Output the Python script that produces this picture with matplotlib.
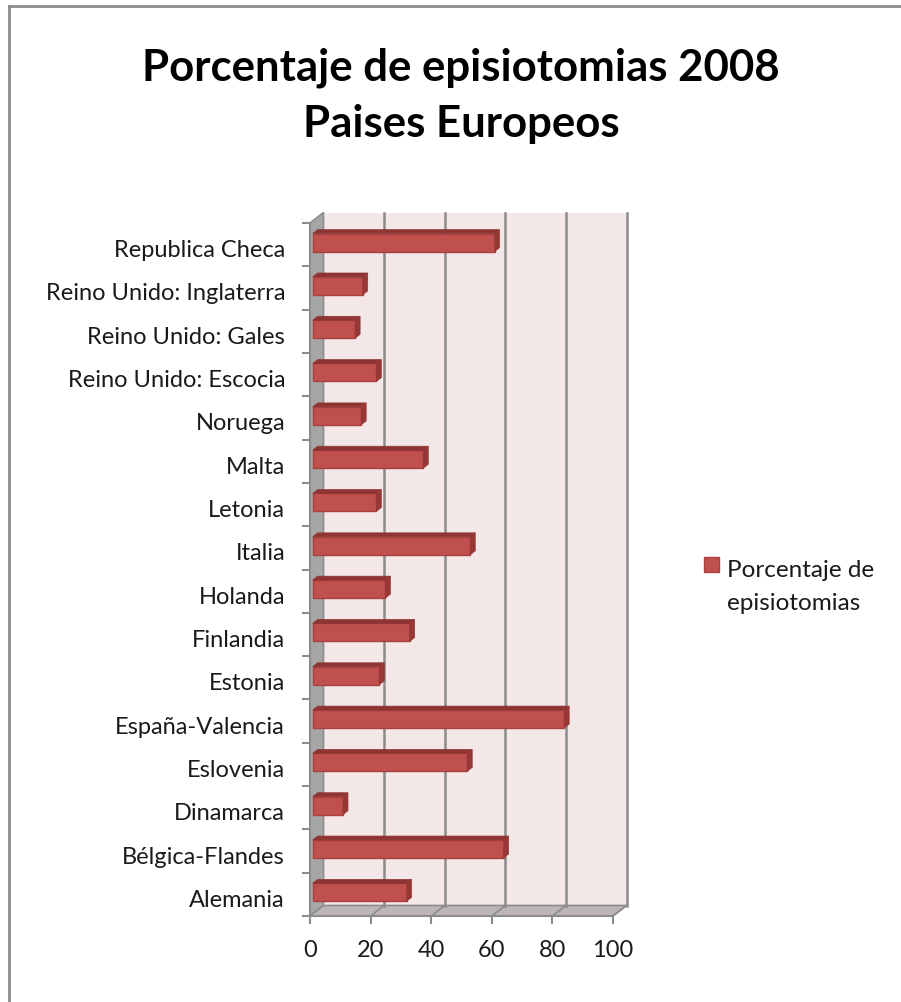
import matplotlib
matplotlib.use('Agg')
import matplotlib.pyplot as plt
from matplotlib.patches import Polygon, Rectangle
from matplotlib.lines import Line2D
from matplotlib.transforms import ScaledTranslation

# -- Data --------------------------------------------------------------
paises = ['Alemania', 'Bélgica-Flandes', 'Dinamarca', 'Eslovenia',
          'España-Valencia', 'Estonia', 'Finlandia', 'Holanda', 'Italia',
          'Letonia', 'Malta', 'Noruega', 'Reino Unido: Escocia',
          'Reino Unido: Gales', 'Reino Unido: Inglaterra', 'Republica Checa']
porcentaje = [31, 63, 10, 51, 83, 22, 32, 24, 52, 21, 36.5, 16, 21, 14, 16.5, 60]
xticks = [0, 20, 40, 60, 80, 100]

# -- Colors ------------------------------------------------------------
C_FRONT = '#C0504D'
C_TOP   = '#8E3533'
C_SIDE  = '#973836'
C_EDGE  = '#A8403D'
C_WALL  = '#F3E7E7'
C_LWALL = '#A6A6A6'
C_FLOOR = '#BDB5B7'
C_GRID  = '#8C8C8C'
C_TEXT  = '#1A1A1A'
FONT    = 'Lato'

W, H = 901, 1003
fig = plt.figure(figsize=(W / 100, H / 100), dpi=100, facecolor='white')

# front plane of the 3D box, in pixels
x0p, x1p, y0p, y1p = 310, 613, 224, 917
ax = fig.add_axes([x0p / W, 1 - y1p / H, (x1p - x0p) / W, (y1p - y0p) / H])
ax.set_xlim(0, 100)
ax.set_ylim(0, len(paises))
ax.set_facecolor('none')

# depth offset (back plane vs front plane), in data units
n = len(paises)
dx = 13.5 / ((x1p - x0p) / 100)
dy = 10.5 / ((y1p - y0p) / n)

# walls
ax.add_patch(Polygon([(dx, dy), (100 + dx, dy), (100 + dx, n + dy), (dx, n + dy)],
                     closed=True, facecolor=C_WALL, edgecolor='none', clip_on=False, zorder=0))
ax.add_patch(Polygon([(0, 0), (dx, dy), (dx, n + dy), (0, n)],
                     closed=True, facecolor=C_LWALL, edgecolor=C_GRID, lw=1.2, clip_on=False, zorder=1))
ax.add_patch(Polygon([(0, 0), (100, 0), (100 + dx, dy), (dx, dy)],
                     closed=True, facecolor=C_FLOOR, edgecolor=C_GRID, lw=1.2, clip_on=False, zorder=1))

# gridlines on back wall and floor
for k in xticks[1:]:
    ax.plot([k + dx, k + dx], [dy, n + dy], color=C_GRID, lw=1.8, clip_on=False, zorder=1)
    ax.plot([k, k + dx], [0, dy], color=C_GRID, lw=1.2, clip_on=False, zorder=1)

# bars (front face + top + right side)
f0, f1 = 0.2, 0.57
h = 18 / ((y1p - y0p) / n)
ys = [i + 0.5 + f0 * dy for i in range(n)]
ax.barh(ys, porcentaje, left=f0 * dx, height=h, color=C_FRONT,
        edgecolor=C_EDGE, lw=1.0, zorder=3, clip_on=False)
ddx, ddy = (f1 - f0) * dx, (f1 - f0) * dy
for y, v in zip(ys, porcentaje):
    xl, xr = f0 * dx, f0 * dx + v
    yb, yt = y - h / 2, y + h / 2
    ax.add_patch(Polygon([(xl, yt), (xr, yt), (xr + ddx, yt + ddy), (xl + ddx, yt + ddy)],
                         closed=True, facecolor=C_TOP, edgecolor=C_TOP, lw=0.5, zorder=3, clip_on=False))
    ax.add_patch(Polygon([(xr, yb), (xr, yt), (xr + ddx, yt + ddy), (xr + ddx, yb + ddy)],
                         closed=True, facecolor=C_SIDE, edgecolor=C_SIDE, lw=0.5, zorder=3, clip_on=False))

# axes / ticks
for s in ['top', 'right']:
    ax.spines[s].set_visible(False)
for s in ['left', 'bottom']:
    ax.spines[s].set_color(C_GRID)
    ax.spines[s].set_linewidth(1.5)
    ax.spines[s].set_zorder(2)
ax.set_xticks(xticks)
ax.set_xticklabels([str(t) for t in xticks], fontsize=17, family=FONT, color=C_TEXT)
ax.tick_params(axis='x', length=5.5, width=1.5, color=C_GRID, pad=11)
ax.set_yticks([i + 0.5 for i in range(n)])
ax.set_yticklabels(paises, fontsize=17, family=FONT, color=C_TEXT)
ax.set_yticks(range(n + 1), minor=True)
ax.tick_params(axis='y', which='major', length=0, pad=18)
ax.tick_params(axis='y', which='minor', length=5.5, width=1.5, color=C_GRID)
shift = ScaledTranslation(0, -3 / 100, fig.dpi_scale_trans)
for lab in ax.get_yticklabels():
    lab.set_transform(lab.get_transform() + shift)

# title
fig.text(461 / W, 1 - 80 / H, 'Porcentaje de episiotomias 2008', ha='center', va='baseline',
         fontsize=31.5, fontweight='bold', family=FONT, color='black')
fig.text(461 / W, 1 - 137 / H, 'Paises Europeos', ha='center', va='baseline',
         fontsize=31.5, fontweight='bold', family=FONT, color='black')

# legend
fig.add_artist(Rectangle((704 / W, 1 - 573 / H), 15 / W, 15 / H, transform=fig.transFigure,
                         facecolor=C_FRONT, edgecolor=C_EDGE, lw=1))
fig.text(727 / W, 1 - 577 / H, 'Porcentaje de', ha='left', va='baseline',
         fontsize=17.5, family=FONT, color=C_TEXT)
fig.text(727 / W, 1 - 610 / H, 'episiotomias', ha='left', va='baseline',
         fontsize=17.5, family=FONT, color=C_TEXT)

# outer chart border (top and left visible)
fig.add_artist(Line2D([9 / W, 1], [1 - 7 / H, 1 - 7 / H], transform=fig.transFigure,
                      color=C_GRID, lw=2))
fig.add_artist(Line2D([9 / W, 9 / W], [0, 1 - 7 / H], transform=fig.transFigure,
                      color=C_GRID, lw=2))

plt.savefig('out.png', dpi=100, facecolor='white')
plt.close()
